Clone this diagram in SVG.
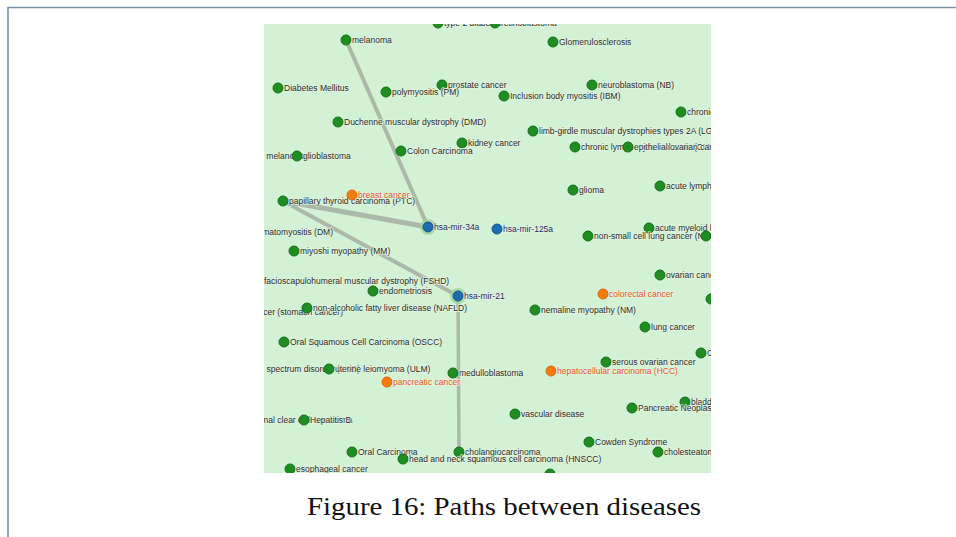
<svg xmlns="http://www.w3.org/2000/svg" width="956" height="537" viewBox="0 0 956 537">
  <style>
    .frame { stroke: #7d93a9; stroke-width: 1.6; fill: none; }
    .edge { stroke: #a7b2a5; stroke-linecap: round; fill: none; opacity: 0.9; }
    .g circle { fill: #1f8d22; stroke: #16701a; stroke-width: 1; }
    .o circle { fill: #f57b0f; stroke: #e06a08; stroke-width: 1; }
    .b circle.core { fill: #1d6bb0; stroke: #17558c; stroke-width: 1; }
    .b circle.halo { fill: #9fd49a; opacity: 0.8; }
    text { font-family: "Liberation Sans", Arial, sans-serif; font-size: 8.5px; paint-order: stroke; stroke: #e4f5e1; stroke-width: 1.4px; stroke-linejoin: round; }
    .g text { fill: #262a26; }
    .o text { fill: #e6531d; }
    .b text { fill: #1c2a62; }
    .clip text { fill: #262a26; }
    .caption { font-family: "Liberation Serif", "DejaVu Serif", serif; font-size: 25px; fill: #111; stroke: none; }
  </style>
  <defs>
    <clipPath id="panelClip">
      <rect x="264" y="24" width="447" height="449"/>
    </clipPath>
  </defs>

  <rect width="956" height="537" fill="#ffffff"/>
  <!-- page frame -->
  <path class="frame" d="M8 537 V7.5 H956"/>

  <!-- graph panel -->
  <rect x="264" y="24" width="447" height="449" fill="#d3f1d4"/>

  <g clip-path="url(#panelClip)">
    <!-- connectors -->
    <g id="edges">
      <line class="edge" x1="346" y1="40" x2="428" y2="227" stroke-width="4"/>
      <line class="edge" x1="283" y1="201" x2="428" y2="227" stroke-width="5"/>
      <line class="edge" x1="283" y1="201" x2="458" y2="296" stroke-width="4"/>
      <line class="edge" x1="458" y1="296" x2="459" y2="452" stroke-width="3.5"/>
    </g>

    <!-- labels whose nodes sit outside the panel -->
    <g id="n-metastatic-melanoma" class="clip"><text x="306" y="159" text-anchor="end">metastatic melanoma</text></g>
    <g id="n-dermatomyositis" class="clip"><text x="333" y="235" text-anchor="end">dermatomyositis (DM)</text></g>
    <g id="n-fshd" class="clip"><text x="264" y="284">facioscapulohumeral muscular dystrophy (FSHD)</text></g>
    <g id="n-gastric" class="clip"><text x="343" y="315" text-anchor="end">gastric cancer (stomach cancer)</text></g>
    <g id="n-asd" class="clip"><text x="360" y="372" text-anchor="end">autism spectrum disorder (ASD)</text></g>
    <g id="n-rcc" class="clip"><text x="256" y="423">renal clear cell carcinoma</text></g>

    <!-- disease nodes -->
    <g id="n-t2d" class="g"><circle cx="438" cy="23" r="5"/><text x="444" y="26">type 2 diabetes</text></g>
    <g id="n-retinoblastoma" class="g"><circle cx="495" cy="23" r="5"/><text x="501" y="26">retinoblastoma</text></g>
    <g id="n-melanoma" class="g"><circle cx="346" cy="40" r="5"/><text x="352" y="43">melanoma</text></g>
    <g id="n-glomerulosclerosis" class="g"><circle cx="553" cy="42" r="5"/><text x="559" y="45">Glomerulosclerosis</text></g>
    <g id="n-diabetes" class="g"><circle cx="278" cy="88" r="5"/><text x="284" y="91">Diabetes Mellitus</text></g>
    <g id="n-prostate" class="g"><circle cx="442" cy="85" r="5"/><text x="448" y="88">prostate cancer</text></g>
    <g id="n-polymyositis" class="g"><circle cx="386" cy="92" r="5"/><text x="392" y="95">polymyositis (PM)</text></g>
    <g id="n-neuroblastoma" class="g"><circle cx="592" cy="85" r="5"/><text x="598" y="88">neuroblastoma (NB)</text></g>
    <g id="n-ibm" class="g"><circle cx="504" cy="96" r="5"/><text x="510" y="99">Inclusion body myositis (IBM)</text></g>
    <g id="n-cml" class="g"><circle cx="681" cy="112" r="5"/><text x="687" y="115">chronic myeloid leukemia (CML)</text></g>
    <g id="n-dmd" class="g"><circle cx="338" cy="122" r="5"/><text x="344" y="125">Duchenne muscular dystrophy (DMD)</text></g>
    <g id="n-lgmd" class="g"><circle cx="533" cy="131" r="5"/><text x="539" y="134">limb-girdle muscular dystrophies types 2A (LGMD2A)</text></g>
    <g id="n-kidney" class="g"><circle cx="462" cy="143" r="5"/><text x="468" y="146">kidney cancer</text></g>
    <g id="n-cll" class="g"><circle cx="575" cy="147" r="5"/><text x="581" y="150">chronic lymphocytic leukemia (CLL)</text></g>
    <g id="n-eoc" class="g"><circle cx="628" cy="147" r="5"/><text x="634" y="150">epithelial ovarian cancer (EOC)</text></g>
    <g id="n-glioblastoma" class="g"><circle cx="297" cy="156" r="5"/><text x="303" y="159">glioblastoma</text></g>
    <g id="n-colon" class="g"><circle cx="401" cy="151" r="5"/><text x="407" y="154">Colon Carcinoma</text></g>
    <g id="n-glioma" class="g"><circle cx="573" cy="190" r="5"/><text x="579" y="193">glioma</text></g>
    <g id="n-all" class="g"><circle cx="660" cy="186" r="5"/><text x="666" y="189">acute lymphoblastic leukemia (ALL)</text></g>
    <g id="n-ptc" class="g"><circle cx="283" cy="201" r="5"/><text x="289" y="204">papillary thyroid carcinoma (PTC)</text></g>
    <g id="n-breast" class="o"><circle cx="352" cy="195" r="5"/><text x="358" y="198">breast cancer</text></g>
    <g id="n-aml" class="g"><circle cx="649" cy="228" r="5"/><text x="655" y="231">acute myeloid leukemia (AML)</text></g>
    <g id="n-nsclc" class="g"><circle cx="588" cy="236" r="5"/><text x="594" y="239">non-small cell lung cancer (NSCLC)</text></g>
    <g id="n-edge-right-1" class="g"><circle cx="706" cy="236" r="5"/></g>
    <g id="n-miyoshi" class="g"><circle cx="294" cy="251" r="5"/><text x="300" y="254">miyoshi myopathy (MM)</text></g>
    <g id="n-ovarian" class="g"><circle cx="660" cy="275" r="5"/><text x="666" y="278">ovarian cancer</text></g>
    <g id="n-endometriosis" class="g"><circle cx="373" cy="291" r="5"/><text x="379" y="294">endometriosis</text></g>
    <g id="n-colorectal" class="o"><circle cx="603" cy="294" r="5"/><text x="609" y="297">colorectal cancer</text></g>
    <g id="n-edge-right-2" class="g"><circle cx="711" cy="299" r="5"/></g>
    <g id="n-nafld" class="g"><circle cx="307" cy="308" r="5"/><text x="313" y="311">non-alcoholic fatty liver disease (NAFLD)</text></g>
    <g id="n-nemaline" class="g"><circle cx="535" cy="310" r="5"/><text x="541" y="313">nemaline myopathy (NM)</text></g>
    <g id="n-lung" class="g"><circle cx="645" cy="327" r="5"/><text x="651" y="330">lung cancer</text></g>
    <g id="n-oscc" class="g"><circle cx="284" cy="342" r="5"/><text x="290" y="345">Oral Squamous Cell Carcinoma (OSCC)</text></g>
    <g id="n-cervical" class="g"><circle cx="701" cy="353" r="5"/><text x="707" y="356">Cervical cancer</text></g>
    <g id="n-serous" class="g"><circle cx="606" cy="362" r="5"/><text x="612" y="365">serous ovarian cancer</text></g>
    <g id="n-ulm" class="g"><circle cx="329" cy="369" r="5"/><text x="335" y="372">uterine leiomyoma (ULM)</text></g>
    <g id="n-medulloblastoma" class="g"><circle cx="453" cy="373" r="5"/><text x="459" y="376">medulloblastoma</text></g>
    <g id="n-hcc" class="o"><circle cx="551" cy="371" r="5"/><text x="557" y="374">hepatocellular carcinoma (HCC)</text></g>
    <g id="n-pancreatic" class="o"><circle cx="387" cy="382" r="5"/><text x="393" y="385">pancreatic cancer</text></g>
    <g id="n-bladder" class="g"><circle cx="685" cy="402" r="5"/><text x="691" y="405">bladder cancer</text></g>
    <g id="n-pancreatic-neo" class="g"><circle cx="632" cy="408" r="5"/><text x="638" y="411">Pancreatic Neoplasms</text></g>
    <g id="n-vascular" class="g"><circle cx="515" cy="414" r="5"/><text x="521" y="417">vascular disease</text></g>
    <g id="n-hepb" class="g"><circle cx="304" cy="420" r="5"/><text x="310" y="423">Hepatitis B</text></g>
    <g id="n-cowden" class="g"><circle cx="589" cy="442" r="5"/><text x="595" y="445">Cowden Syndrome</text></g>
    <g id="n-oral" class="g"><circle cx="352" cy="452" r="5"/><text x="358" y="455">Oral Carcinoma</text></g>
    <g id="n-cholangio" class="g"><circle cx="459" cy="452" r="5"/><text x="465" y="455">cholangiocarcinoma</text></g>
    <g id="n-cholesteatoma" class="g"><circle cx="658" cy="452" r="5"/><text x="664" y="455">cholesteatoma</text></g>
    <g id="n-hnscc" class="g"><circle cx="403" cy="459" r="5"/><text x="409" y="462">head and neck squamous cell carcinoma (HNSCC)</text></g>
    <g id="n-esophageal" class="g"><circle cx="290" cy="469" r="5"/><text x="296" y="472">esophageal cancer</text></g>
    <g id="n-bottom" class="g"><circle cx="550" cy="474" r="5"/></g>

    <!-- microRNA nodes -->
    <g id="n-mir34a" class="b"><circle class="halo" cx="428" cy="227" r="8"/><circle class="core" cx="428" cy="227" r="5"/><text x="434" y="230">hsa-mir-34a</text></g>
    <g id="n-mir125a" class="b"><circle class="core" cx="497" cy="229" r="5"/><text x="503" y="232">hsa-mir-125a</text></g>
    <g id="n-mir21" class="b"><circle class="halo" cx="458" cy="296" r="8"/><circle class="core" cx="458" cy="296" r="5"/><text x="464" y="299">hsa-mir-21</text></g>
  </g>

  <text class="caption" x="504" y="515" text-anchor="middle" textLength="394" lengthAdjust="spacingAndGlyphs">Figure 16: Paths between diseases</text>
</svg>
